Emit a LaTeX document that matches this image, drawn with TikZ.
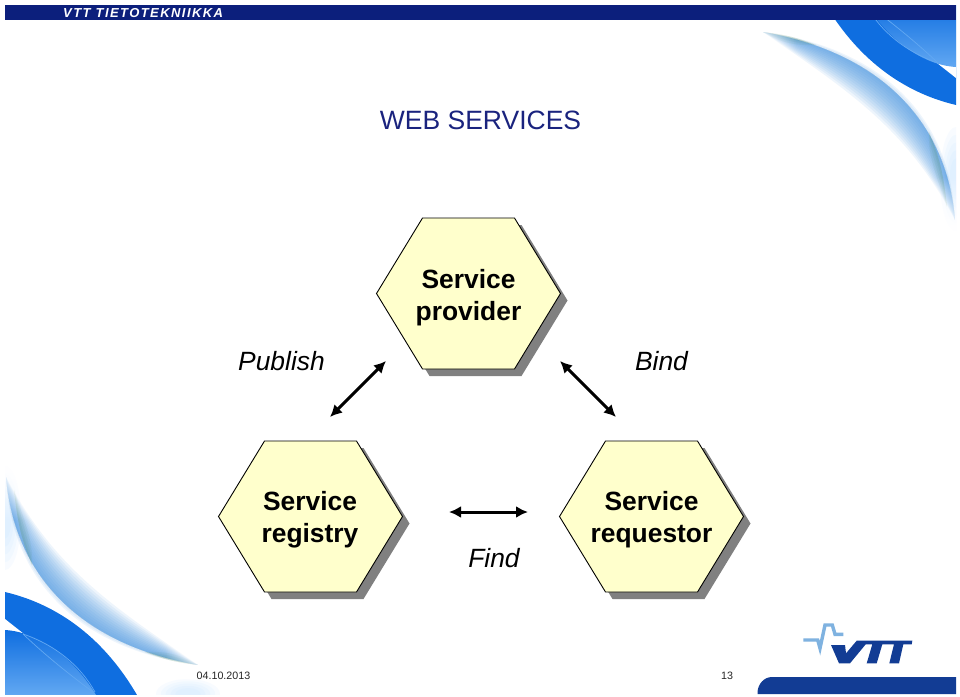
\documentclass[tikz,border=0pt]{standalone}
\usepackage{fontspec}
\setmainfont{Liberation Sans}
\usetikzlibrary{arrows.meta,fadings}
\definecolor{navy}{HTML}{0C1F7C}
\definecolor{logoblue}{HTML}{123C94}
\definecolor{pulse}{HTML}{7FB2E0}
\definecolor{blobblue}{HTML}{0F6EE0}
\definecolor{blobpale}{HTML}{62A8F2}
\definecolor{swoosh}{HTML}{4A97E2}
\definecolor{hexfill}{HTML}{FFFFCC}
\definecolor{titlecol}{HTML}{1A237E}
\newcommand{\decorpiece}[2]{%
  \begin{scope}
    \clip (5,2) rectangle (956,694);
    \foreach \s in {0.4,0.55,0.7,0.85,1}{
      \fill[blue!45!cyan!30!white,opacity=0.09] (5,518) ellipse [x radius=16*\s,y radius=52*\s];
      \fill[blue!45!cyan!30!white,opacity=0.09] (188,694) ellipse [x radius=32*\s,y radius=15*\s];
    }
    \foreach \d in {-5,-3,-1,3,6,...,39}{
      \fill[swoosh,opacity=0.09] (6,477) .. controls (15,580) and (85,645) .. (198,665)
        .. controls ({85+0.7*\d},{645-\d}) and ({15+\d},{580-0.3*\d}) .. (6,477) -- cycle;
    }
    \foreach \d in {3,6,9}{
      \fill[black!40!green!40!gray,opacity=0.07] (14,490) .. controls (18,530) and (24,545) .. (32,565)
        .. controls ({24+\d},{545-\d*.3}) and ({18+\d},{530-\d*.3}) .. (14,490) -- cycle;
      \fill[black!40!green!40!gray,opacity=0.07] (145,652) .. controls (165,660) and (180,663) .. (198,665)
        .. controls (180,{663-\d}) and (165,{660-\d}) .. (145,652) -- cycle;
    }
    \fill[white,path fading=#1] (165,640) rectangle (215,680);
    \fill[white,path fading=#2] (0,465) rectangle (32,520);
    \fill[blobblue] (5,592) .. controls (60,605) and (105,640) .. (137,695) -- (5,695) -- cycle;
    \fill[white] (5,619) -- (24,634) -- (5,631) -- cycle;
    \shade[top color=blobblue,bottom color=blobpale]
      (5,630) .. controls (40,632) and (75,660) .. (96,695) -- (5,695) -- cycle;
    \draw[blobpale,line width=0.7pt] (23,634) .. controls (55,645) and (80,665) .. (95,692);
    \draw[blobpale,line width=0.7pt] (23,634) .. controls (45,655) and (70,675) .. (93,692);
  \end{scope}}
\newcommand{\hexagonat}[2]{%
  \begin{scope}[shift={(#1,#2)}]
    \fill[hexshadow] (-85,7) -- (-39,-68.5) -- (53,-68.5) -- (99,7) -- (53,82.5) -- (-39,82.5) -- cycle;
    \draw[hexbody] (-92,0) -- (-46,-75.5) -- (46,-75.5) -- (92,0) -- (46,75.5) -- (-46,75.5) -- cycle;
  \end{scope}}
\tikzset{
  hexshadow/.style={fill=black!50},
  hexbody/.style={fill=hexfill,draw=black,line width=0.9pt,line join=miter},
  hextext/.style={inner sep=0pt,align=center,font=\fontsize{26.4}{32}\selectfont\bfseries},
  caption/.style={inner sep=0pt,anchor=base,font=\fontsize{26.4}{32}\selectfont\itshape},
  biarrow/.style={line width=3pt,{Latex[length=12pt,width=12pt]}-{Latex[length=12pt,width=12pt]}},
  small/.style={inner sep=0pt,anchor=base,font=\fontsize{10.7}{12}\selectfont,text=black!85}
}
\begin{document}
\begin{tikzpicture}[x=1pt,y=-1pt]
\useasboundingbox (0,0) rectangle (960,696);
\fill[white] (0,0) rectangle (960,696);
\decorpiece{west}{south}
\begin{scope}[shift={(961,697)},xscale=-1,yscale=-1]
  \decorpiece{east}{north}
\end{scope}
\fill[white] (0,0) rectangle (960,4.5);
\fill[navy] (5,4.5) rectangle (956,20);
\node[inner sep=0pt,anchor=base west,text=white,font=\fontsize{13}{14}\selectfont\bfseries\itshape\addfontfeature{LetterSpace=11}] (band) at (63,17) {VTT TIETOTEKNIIKKA};
\node[inner sep=0pt,anchor=base,text=titlecol,font=\fontsize{26.5}{30}\selectfont] (title) at (480.5,129.5) {WEB SERVICES};
\hexagonat{468.5}{293.5}
\hexagonat{310.5}{516.5}
\hexagonat{651.5}{516.5}
\node[hextext] (provider) at (468.5,298) {Service\\provider};
\node[hextext] (registry) at (310,520) {Service\\registry};
\node[hextext] (requestor) at (651.5,520) {Service\\requestor};
\node[caption] (publish) at (281.5,370) {Publish};
\node[caption] (bind) at (661.5,370) {Bind};
\node[caption] (find) at (494,567) {Find};
\coordinate (a1) at (330,417);
\coordinate (a2) at (386,361);
\coordinate (b1) at (560,361);
\coordinate (b2) at (616,417);
\coordinate (c1) at (449,512);
\coordinate (c2) at (528,512);
\draw[biarrow] (a1) -- (a2);
\draw[biarrow] (b1) -- (b2);
\draw[biarrow] (c1) -- (c2);
% logo
\draw[pulse,line width=3.4pt,line join=miter] (803.3,640) -- (817.7,640) -- (820,648.3) -- (825,625) -- (832.3,625) -- (835,634.3) -- (843.3,634.3);
\fill[logoblue] (831,645) -- (845,645) -- (846,653.3) -- (856.7,640.7) -- (912.3,640.7) -- (911.7,644.3) -- (903.3,644.3) -- (899,663.3) -- (889.3,663.3) -- (894,644.3) -- (882.3,644.3) -- (876.7,663.3) -- (866.7,663.3) -- (872.3,644.3) -- (865.7,644.3) -- (850,663.3) -- (839,663.3) -- cycle;
\fill[logoblue] (757.5,694) -- (757.5,692) .. controls (758,684) and (764,677) .. (772,677) -- (956,677) -- (956,694) -- cycle;
\node[small] (date) at (223.5,679) {04.10.2013};
\node[small] (page) at (727,679) {13};
\end{tikzpicture}
\end{document}
